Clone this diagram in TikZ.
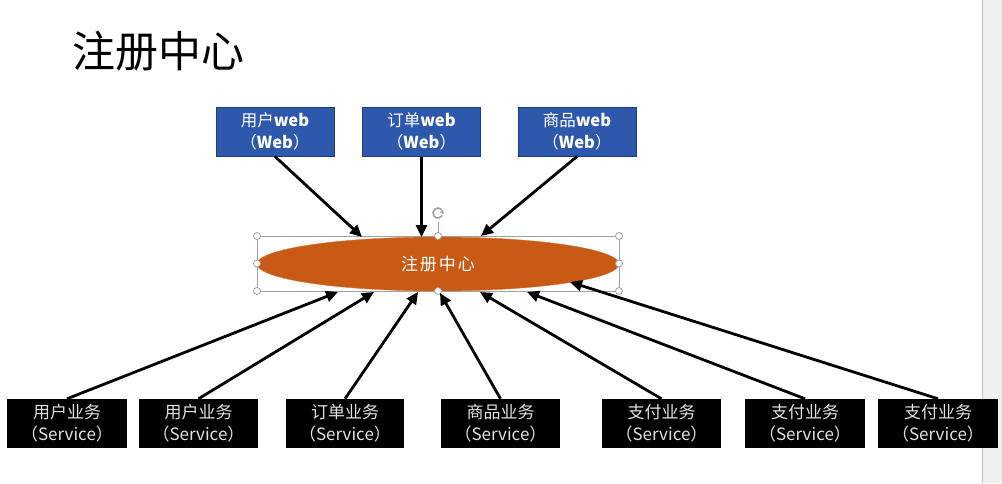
\documentclass[tikz,border=0pt]{standalone}
\usepackage{fontspec}
\setmainfont{Noto Sans CJK SC}
\usetikzlibrary{arrows.meta,shapes.geometric}
\definecolor{webblue}{RGB}{46,88,172}
\definecolor{webedge}{RGB}{30,60,125}
\definecolor{regorange}{RGB}{200,90,22}
\definecolor{selgray}{RGB}{160,160,160}
\definecolor{svctext}{RGB}{225,225,225}
\tikzset{
  webbox/.style={draw=webedge,line width=1pt,fill=webblue,text=white,minimum width=118pt,minimum height=49pt,inner sep=0pt,align=center,font=\fontsize{16.5}{22}\selectfont},
  svcbox/.style={fill=black,text=svctext,minimum width=119pt,minimum height=49pt,inner sep=0pt,align=center,font=\fontsize{17}{22}\selectfont},
  arr/.style={line width=2.8pt,-{Triangle[length=12pt,width=11pt]}},
  handle/.style={circle,draw=selgray,fill=white,line width=0.8pt,minimum size=7pt,inner sep=0pt}
}
\begin{document}
\begin{tikzpicture}[x=1pt,y=-1pt]
\useasboundingbox (0,0) rectangle (1002,483);
\fill[white] (0,0) rectangle (1002,483);
\fill[black!6] (983,0) rectangle (1002,483);
\draw[black!25,line width=1.2pt] (982.5,0) -- (982.5,483);
% title
\node[font=\fontsize{43}{50}\selectfont,anchor=center] (title) at (158,51) {注册中心};
% selection frame
\draw[selgray,line width=0.9pt] (257,236) rectangle (619,291);
% registry ellipse
\node[ellipse,fill=regorange,draw=regorange!85!white,minimum width=362pt,minimum height=54pt,inner sep=0pt,text=white,font=\fontsize{17}{20}\selectfont] (reg) at (438,264) {注\hspace{2pt}册\hspace{2pt}中\hspace{2pt}心};
% handles
\coordinate (rotbase) at (438,236);
\coordinate (rottop) at (438,222);
\draw[selgray,line width=0.9pt] (rotbase) -- (rottop);
\draw[selgray,line width=1.6pt] (438,213) ++(40:5pt) arc[start angle=40,end angle=330,radius=5pt];
\fill[selgray] (438,213) ++(40:5pt) ++(0:1pt) -- ++(-3pt,-3pt) -- ++(4pt,-1pt) -- cycle;
\foreach \p in {(257,236),(438,236),(619,236),(257,263.5),(619,263.5),(257,291),(438,291),(619,291)}
  \node[handle] at \p {};
% web boxes
\node[webbox] (w1) at (275,131.5) {用户\textbf{web}\\（\textbf{Web}）};
\node[webbox] (w2) at (421.5,131.5) {订单\textbf{web}\\（\textbf{Web}）};
\node[webbox] (w3) at (577,131.5) {商品\textbf{web}\\（\textbf{Web}）};
% service boxes
\node[svcbox,minimum width=120pt] (s1) at (67,423.5) {用户业务\\（Service）};
\node[svcbox] (s2) at (198.5,423.5) {用户业务\\（Service）};
\node[svcbox,minimum width=118pt] (s3) at (345,423.5) {订单业务\\（Service）};
\node[svcbox] (s4) at (500.5,423.5) {商品业务\\（Service）};
\node[svcbox] (s5) at (661.5,423.5) {支付业务\\（Service）};
\node[svcbox,minimum width=120pt] (s6) at (805,423.5) {支付业务\\（Service）};
\node[svcbox,minimum width=120pt] (s7) at (938,423.5) {支付业务\\（Service）};
% arrow tip points on the registry
\coordinate (t1) at (362,237);
\coordinate (t2) at (421.5,237);
\coordinate (t3) at (481,236);
\coordinate (u1) at (338,292);
\coordinate (u2) at (374,292);
\coordinate (u3) at (418,292);
\coordinate (u4) at (440,293);
\coordinate (u5) at (480,292);
\coordinate (u6) at (527,292);
\coordinate (u7) at (570,282);
\draw[arr] (w1.south) -- (t1);
\draw[arr] (w2.south) -- (t2);
\draw[arr] (w3.south) -- (t3);
\draw[arr] (s1.north) -- (u1);
\draw[arr] (s2.north) -- (u2);
\draw[arr] (s3.north) -- (u3);
\draw[arr] (s4.north) -- (u4);
\draw[arr] (s5.north) -- (u5);
\draw[arr] (s6.north) -- (u6);
\draw[arr] (s7.north) -- (u7);
\end{tikzpicture}
\end{document}
